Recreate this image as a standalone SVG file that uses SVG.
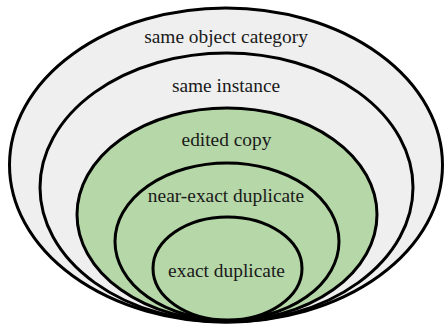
<svg xmlns="http://www.w3.org/2000/svg" width="445" height="329" viewBox="0 0 445 329">
<style>
.e{stroke:#000;stroke-width:3}
.g{fill:#efefef}
.v{fill:#b6d7a8}
.t{font-family:'Liberation Serif','Times New Roman',Times,'DejaVu Serif',serif;font-size:19.4px;fill:#1a1a1a;text-anchor:middle}
</style>
<rect width="445" height="329" fill="#fff"/>
<g id="category"><ellipse class="e g" cx="226" cy="165" rx="216.5" ry="157"/><text class="t" x="226" y="43" font-family="Liberation Serif, serif">same object category</text></g>
<g id="instance"><ellipse class="e g" cx="226.5" cy="187.5" rx="186.5" ry="134.5"/><text class="t" x="226" y="92" font-family="Liberation Serif, serif">same instance</text></g>
<g id="edited"><ellipse class="e v" cx="227" cy="214.5" rx="150" ry="106.5"/><text class="t" x="226.5" y="146" font-family="Liberation Serif, serif">edited copy</text></g>
<g id="near"><ellipse class="e v" cx="227" cy="241.5" rx="112" ry="78.5"/><text class="t" x="226" y="202" font-family="Liberation Serif, serif">near-exact duplicate</text></g>
<g id="exact"><ellipse class="e v" cx="227.5" cy="268.5" rx="74.5" ry="51.5"/><text class="t" x="226.5" y="277" font-family="Liberation Serif, serif">exact duplicate</text></g>
<g id="connectors"/>
</svg>
